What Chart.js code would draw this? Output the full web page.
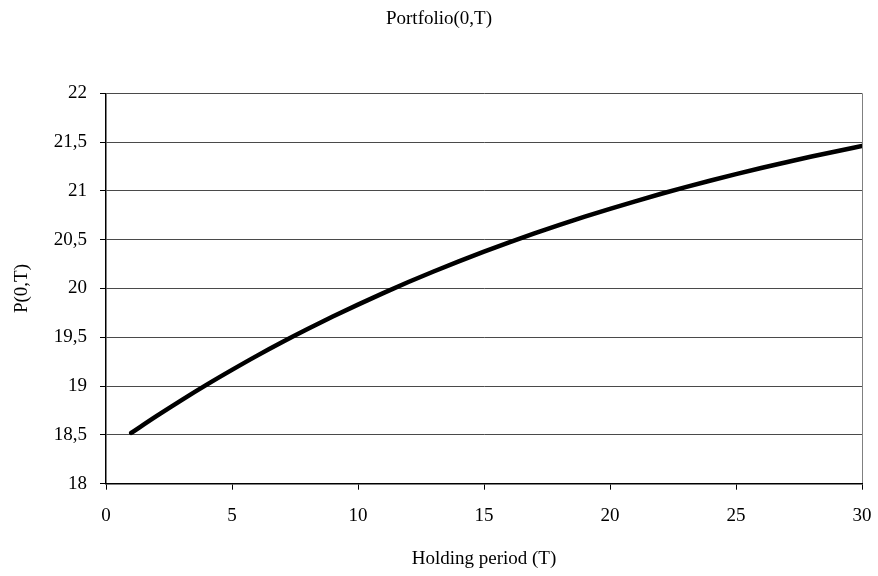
<!DOCTYPE html>
<html>
<head>
<meta charset="utf-8">
<title>Portfolio(0,T)</title>
<script src="https://cdn.jsdelivr.net/npm/chart.js@4"></script>
<style>
  html, body { margin: 0; padding: 0; background: #ffffff; }
  canvas { display: block; }
</style>
</head>
<body>
<canvas id="chart-portfolio" width="878" height="576"></canvas>
<script>
// holding periods (years) and portfolio value P(0,T)
const periods = [1, 2, 3, 4, 5, 6, 7, 8, 9, 10,
                 11, 12, 13, 14, 15, 16, 17, 18, 19, 20,
                 21, 22, 23, 24, 25, 26, 27, 28, 29, 30];
const portfolioValues = [18.520, 18.692, 18.857, 19.015, 19.166, 19.312, 19.451, 19.584, 19.712, 19.835,
                         19.953, 20.066, 20.174, 20.278, 20.377, 20.473, 20.564, 20.652, 20.736, 20.816,
                         20.893, 20.968, 21.039, 21.107, 21.172, 21.235, 21.294, 21.352, 21.407, 21.460];

const xTicks = [0, 5, 10, 15, 20, 25, 30];
const yTicks = [18, 18.5, 19, 19.5, 20, 20.5, 21, 21.5, 22];

const chartTitle = 'Portfolio(0,T)';
const xTitle = 'Holding period (T)';
const yTitle = 'P(0,T)';

Chart.defaults.font.family = "'Liberation Serif', 'Times New Roman', serif";
Chart.defaults.font.size = 19;
Chart.defaults.color = '#000000';

// comma as decimal separator, as in the original
function formatTick(value) {
    return String(value).replace('.', ',');
}

const points = periods.map((t, i) => ({ x: t, y: portfolioValues[i] }));

const ctx = document.getElementById('chart-portfolio').getContext('2d');

new Chart(ctx, {
    type: 'line',
    data: {
        datasets: [{
            data: points,
            borderColor: '#000000',
            borderWidth: 4.5,
            borderCapStyle: 'round',
            pointRadius: 0,
            fill: false,
            cubicInterpolationMode: 'monotone'
        }]
    },
    options: {
        responsive: false,
        animation: false,
        devicePixelRatio: 1,
        layout: {
            padding: { left: 16, right: 16, top: 0, bottom: 0 }
        },
        plugins: {
            legend: { display: false },
            tooltip: { enabled: false },
            title: {
                display: true,
                text: chartTitle,
                color: '#000000',
                font: { size: 19, weight: 'normal' },
                padding: { top: 8, bottom: 62.5 }
            }
        },
        scales: {
            x: {
                type: 'linear',
                min: 0,
                max: 30,
                afterBuildTicks: scale => { scale.ticks = xTicks.map(v => ({ value: v })); },
                afterFit: scale => {
                    scale.height = 92.3;
                    scale.paddingLeft = 0;
                    scale.paddingRight = 0;
                },
                border: { color: '#000000', width: 1.5 },
                grid: {
                    drawOnChartArea: true,
                    color: c => (c.tick && c.tick.value === 30) ? '#808080' : 'rgba(0,0,0,0)',
                    tickColor: '#000000',
                    tickLength: 6
                },
                ticks: {
                    color: '#000000',
                    padding: 15,
                    maxRotation: 0,
                    callback: formatTick
                },
                title: {
                    display: true,
                    text: xTitle,
                    color: '#000000',
                    padding: { top: 0, bottom: 6 }
                }
            },
            y: {
                min: 18,
                max: 22,
                afterBuildTicks: scale => { scale.ticks = yTicks.map(v => ({ value: v })); },
                afterFit: scale => { scale.width = 90; },
                border: { color: '#000000', width: 1.5 },
                grid: {
                    color: '#4a4a4a',
                    tickColor: '#000000',
                    tickLength: 6
                },
                ticks: {
                    color: '#000000',
                    padding: 13,
                    callback: formatTick
                },
                title: {
                    display: true,
                    text: yTitle,
                    color: '#000000',
                    padding: { top: -5, bottom: 0 }
                }
            }
        }
    }
});
</script>
</body>
</html>
